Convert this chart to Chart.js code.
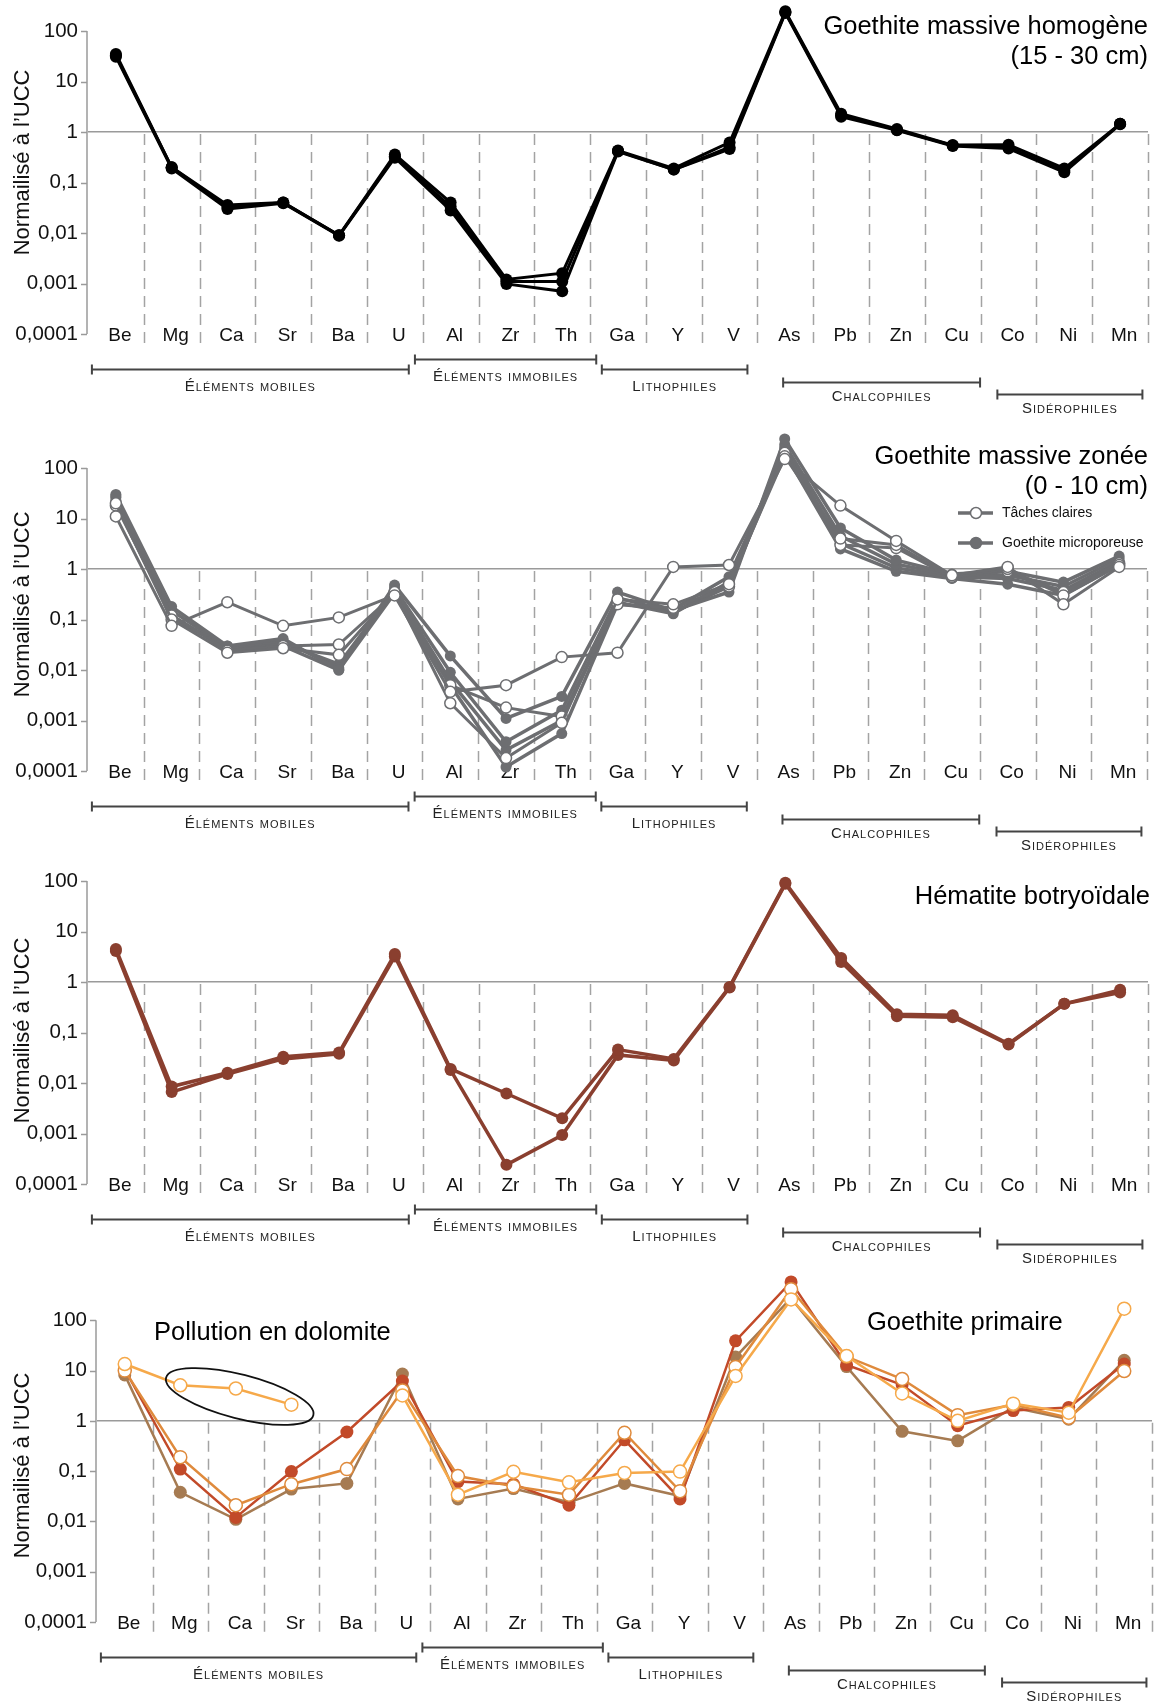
<!DOCTYPE html>
<html>
<head>
<meta charset="utf-8">
<script src="https://cdn.jsdelivr.net/npm/chart.js@4.4.0/dist/chart.umd.min.js"></script>
<style>
body{margin:0;background:#fff;width:1154px;height:1704px;position:relative;overflow:hidden}
canvas{position:absolute;left:0}
</style>
</head>
<body>
<canvas id="p1" width="1154" height="430" style="top:0px"></canvas>
<canvas id="p2" width="1154" height="440" style="top:416px"></canvas>
<canvas id="p3" width="1154" height="430" style="top:850px"></canvas>
<canvas id="p4" width="1160" height="442" style="top:1262px"></canvas>
<script>
var elements = ['Be','Mg','Ca','Sr','Ba','U','Al','Zr','Th','Ga','Y','V','As','Pb','Zn','Cu','Co','Ni','Mn'];
var yTickValues = [0.0001, 0.001, 0.01, 0.1, 1, 10, 100];
var yTickLabels = ['0,0001', '0,001', '0,01', '0,1', '1', '10', '100'];

// Goethite massive homogène (15 - 30 cm)
var homogeneA = [35, 0.2, 0.032, 0.04, 0.009, 0.36, 0.04, 0.0012, 0.0016, 0.43, 0.19, 0.62, 245, 2.3, 1.15, 0.55, 0.56, 0.19, 1.45];
var homogeneB = [33, 0.2, 0.036, 0.04, 0.009, 0.33, 0.033, 0.0011, 0.0011, 0.42, 0.18, 0.5, 235, 2.15, 1.1, 0.54, 0.5, 0.17, 1.45];
var homogeneC = [31, 0.19, 0.03, 0.039, 0.0088, 0.31, 0.028, 0.00098, 0.0007, 0.41, 0.18, 0.46, 228, 2.0, 1.08, 0.53, 0.47, 0.16, 1.42];

// Goethite massive zonée (0 - 10 cm)
var claires1 = [11, 0.075, 0.22, 0.075, 0.11, 0.3, 0.0037, 0.005, 0.018, 0.022, 1.1, 1.2, 150, 18, 3.6, 0.75, 1.1, 0.2, 1.1];
var claires2 = [20, 0.1, 0.022, 0.027, 0.02, 0.35, 0.0022, 0.00018, 0.0009, 0.25, 0.2, 0.5, 170, 4, 3.0, 0.7, 1.0, 0.3, 1.2];
var claires3 = [18, 0.12, 0.024, 0.03, 0.032, 0.32, 0.005, 0.0018, 0.0012, 0.2, 0.17, 0.45, 200, 3, 2.6, 0.68, 0.9, 0.35, 1.3];
var micro1 = [30, 0.18, 0.03, 0.042, 0.01, 0.48, 0.019, 0.0011, 0.003, 0.35, 0.15, 0.35, 375, 6.5, 1.5, 0.8, 0.9, 0.55, 1.8];
var micro2 = [26, 0.15, 0.028, 0.038, 0.011, 0.42, 0.009, 0.00038, 0.0016, 0.27, 0.14, 0.45, 290, 4.5, 1.25, 0.75, 0.75, 0.45, 1.6];
var micro3 = [23, 0.12, 0.026, 0.034, 0.013, 0.38, 0.006, 0.00026, 0.001, 0.22, 0.13, 0.55, 250, 3.2, 1.05, 0.7, 0.65, 0.38, 1.4];
var micro4 = [28, 0.1, 0.03, 0.03, 0.01, 0.33, 0.005, 0.00012, 0.00055, 0.2, 0.16, 0.7, 200, 2.5, 0.9, 0.65, 0.5, 0.3, 1.2];

// Hématite botryoïdale
var hematiteA = [4.5, 0.0085, 0.016, 0.033, 0.04, 3.6, 0.019, 0.0062, 0.002, 0.046, 0.03, 0.8, 92, 3.0, 0.23, 0.22, 0.06, 0.37, 0.7];
var hematiteB = [4.1, 0.0066, 0.015, 0.03, 0.038, 3.2, 0.018, 0.00024, 0.00093, 0.036, 0.028, 0.78, 88, 2.5, 0.21, 0.2, 0.058, 0.37, 0.62];

// Goethite primaire
var primaireA = [13.5, 5.1, 4.4, 2.1, null, 3.2, 0.034, 0.097, 0.06, 0.092, 0.098, 7.8, 260, 19.5, 3.5, 1.0, 2.2, 1.45, 170];
var primaireB = [10, 0.19, 0.021, 0.055, 0.11, 4.0, 0.08, 0.05, 0.034, 0.58, 0.04, 11.8, 415, 19, 6.8, 1.3, 2.1, 1.15, 9.8];
var primaireC = [10.5, 0.11, 0.012, 0.098, 0.6, 6.2, 0.062, 0.055, 0.021, 0.42, 0.028, 39, 580, 13, 5.2, 0.8, 1.6, 1.85, 13.5];
var primaireD = [8.2, 0.038, 0.011, 0.044, 0.057, 8.5, 0.028, 0.045, 0.024, 0.057, 0.032, 18.6, 275, 12, 0.62, 0.4, 1.85, 1.08, 16];

var groupNames = ['Éléments mobiles', 'Éléments immobiles', 'Lithophiles', 'Chalcophiles', 'Sidérophiles'];
var groupFrom = [-0.43, 5.36, 8.71, 11.96, 15.8];
var groupTo = [5.25, 8.61, 11.32, 15.49, 18.4];
var groupLineDy = [35, 25, 35, 48, 60];
var groupTextDy = [53, 43, 53, 63, 75];

Chart.defaults.font.family = '"Liberation Sans", Arial, sans-serif';
Chart.defaults.color = '#111';

function serie(data, color, open, width, radius) {
    return {
        data: data,
        borderColor: color,
        borderWidth: width,
        pointRadius: radius,
        pointBorderWidth: open ? 1.5 : 0,
        pointBorderColor: color,
        pointBackgroundColor: open ? '#fff' : color,
        tension: 0,
        clip: false,
        spanGaps: false
    };
}

function makeAnnot(o) {
    return {
        id: 'annot',
        beforeDatasetsDraw: function(chart) {
            var x = chart.scales.x, y = chart.scales.y, ctx = chart.ctx;
            var y1 = y.getPixelForValue(1) + 2;
            var yb = o.bottom + 10;
            ctx.save();
            ctx.strokeStyle = '#a3a3a3';
            ctx.lineWidth = 1.5;
            ctx.setLineDash([11, 7]);
            for (var i = 1; i <= elements.length; i++) {
                var px = Math.round(x.getPixelForValue(i - 0.5)) + 0.5;
                ctx.beginPath();
                ctx.moveTo(px, y1);
                ctx.lineTo(px, yb);
                ctx.stroke();
            }
            ctx.restore();
            // y axis line and ticks, 100 down to 0,0001
            ctx.save();
            ctx.strokeStyle = '#9a9a9a';
            ctx.lineWidth = 1.5;
            var ax = o.left - 1;
            ctx.beginPath();
            ctx.moveTo(ax, y.getPixelForValue(100));
            ctx.lineTo(ax, y.getPixelForValue(0.0001));
            yTickValues.forEach(function(v) {
                var py = Math.round(y.getPixelForValue(v)) + 0.5;
                ctx.moveTo(ax - 6, py);
                ctx.lineTo(ax, py);
            });
            ctx.stroke();
            ctx.restore();
        },
        afterDraw: function(chart) {
            var x = chart.scales.x, y = chart.scales.y, ctx = chart.ctx;
            ctx.save();
            // brackets
            ctx.strokeStyle = '#444';
            ctx.lineWidth = 2;
            ctx.fillStyle = '#222';
            ctx.textAlign = 'center';
            ctx.textBaseline = 'middle';
            ctx.font = '15px "Liberation Sans", Arial, sans-serif';
            ctx.fontVariantCaps = 'small-caps';
            ctx.letterSpacing = '1px';
            for (var g = 0; g < groupNames.length; g++) {
                var a = x.getPixelForValue(groupFrom[g]), b = x.getPixelForValue(groupTo[g]);
                var ly = o.bottom + groupLineDy[g] + 0.5;
                ctx.beginPath();
                ctx.moveTo(a, ly); ctx.lineTo(b, ly);
                ctx.moveTo(a, ly - 5); ctx.lineTo(a, ly + 5);
                ctx.moveTo(b, ly - 5); ctx.lineTo(b, ly + 5);
                ctx.stroke();
                ctx.fillText(groupNames[g], (a + b) / 2, o.bottom + groupTextDy[g]);
            }
            ctx.fontVariantCaps = 'normal';
            ctx.letterSpacing = '0px';
            // y title
            ctx.save();
            ctx.translate(23, y.getPixelForValue(o.titleAt));
            ctx.rotate(-Math.PI / 2);
            ctx.font = '22px "Liberation Sans", Arial, sans-serif';
            ctx.fillStyle = '#111';
            ctx.fillText('Normailisé à l’UCC', 0, 0);
            ctx.restore();
            // titles
            ctx.fillStyle = '#000';
            ctx.font = '25.5px "Liberation Sans", Arial, sans-serif';
            o.titles.forEach(function(t) {
                ctx.textAlign = t.align;
                ctx.fillText(t.text, t.x, t.y);
            });
            // legend
            if (o.legend) {
                ctx.font = '14px "Liberation Sans", Arial, sans-serif';
                ctx.textAlign = 'left';
                o.legend.forEach(function(l) {
                    ctx.strokeStyle = l.color;
                    ctx.lineWidth = 3.5;
                    ctx.beginPath();
                    ctx.moveTo(958, l.y); ctx.lineTo(993, l.y);
                    ctx.stroke();
                    ctx.beginPath();
                    ctx.arc(976, l.y, 5.5, 0, Math.PI * 2);
                    ctx.fillStyle = l.open ? '#fff' : l.color;
                    ctx.fill();
                    ctx.lineWidth = 1.5;
                    ctx.stroke();
                    ctx.fillStyle = '#111';
                    ctx.fillText(l.text, 1002, l.y);
                });
            }
            // ellipse
            if (o.ellipse) {
                ctx.strokeStyle = '#111';
                ctx.lineWidth = 1.8;
                ctx.beginPath();
                ctx.ellipse(x.getPixelForValue(o.ellipse.at), y.getPixelForValue(o.ellipse.val), 76, 22, 0.25, 0, Math.PI * 2);
                ctx.stroke();
            }
            ctx.restore();
        }
    };
}

function makePanel(id, sets, o) {
    var cv = document.getElementById(id);
    var H = cv.height;
    var decade = (o.bottom - o.top) / 6;
    var chartTop = o.top - Math.log10(o.yMax / 100) * decade;
    return new Chart(cv, {
        type: 'line',
        data: { labels: elements, datasets: sets },
        options: {
            responsive: false,
            animation: false,
            devicePixelRatio: 1,
            layout: { padding: { top: chartTop, right: o.right, bottom: H - o.bottom - 30, left: 0 } },
            plugins: { legend: { display: false }, tooltip: { enabled: false } },
            scales: {
                x: {
                    offset: true,
                    grid: { display: false, drawTicks: false },
                    border: { display: false },
                    ticks: { autoSkip: false, maxRotation: 0, mirror: true, padding: -13, labelOffset: 4, color: '#111', font: { size: 19 } },
                    afterFit: function(s) { s.height = 30; s.paddingLeft = 0; s.paddingRight = 0; }
                },
                y: {
                    type: 'logarithmic',
                    min: 0.0001,
                    max: o.yMax,
                    afterFit: function(s) { s.width = o.left; s.paddingTop = 0; s.paddingBottom = 0; },
                    afterBuildTicks: function(s) { s.ticks = yTickValues.map(function(v) { return { value: v }; }); },
                    ticks: {
                        padding: 4,
                        color: '#111',
                        font: { size: 20.5 },
                        callback: function(v) { return yTickLabels[yTickValues.indexOf(v)]; }
                    },
                    grid: {
                        color: function(c) { return c.tick && c.tick.value === 1 ? '#9a9a9a' : 'rgba(0,0,0,0)'; },
                        lineWidth: 1.5,
                        tickLength: 6,
                        tickColor: 'rgba(0,0,0,0)'
                    },
                    border: { display: false }
                }
            }
        },
        plugins: [makeAnnot(o)]
    });
}

var grey = '#6d6e71';
var rust = '#8a3f2f';

makePanel('p1', [
    serie(homogeneA, '#000', false, 3, 6),
    serie(homogeneB, '#000', false, 3, 6),
    serie(homogeneC, '#000', false, 3, 6)
], { top: 31, bottom: 334, yMax: 300, left: 88, right: 2, titleAt: 0.25,
     titles: [{ text: 'Goethite massive homogène', x: 1148, y: 27, align: 'right' },
              { text: '(15 - 30 cm)', x: 1148, y: 57, align: 'right' }] });

makePanel('p2', [
    serie(claires1, grey, true, 3, 5.5),
    serie(claires2, grey, true, 3, 5.5),
    serie(claires3, grey, true, 3, 5.5),
    serie(micro1, grey, false, 3.5, 5.5),
    serie(micro2, grey, false, 3.5, 5.5),
    serie(micro3, grey, false, 3.5, 5.5),
    serie(micro4, grey, false, 3.5, 5.5)
], { top: 52, bottom: 355, yMax: 600, left: 88, right: 2, titleAt: 0.2,
     titles: [{ text: 'Goethite massive zonée', x: 1148, y: 41, align: 'right' },
              { text: '(0 - 10 cm)', x: 1148, y: 71, align: 'right' }],
     legend: [{ text: 'Tâches claires', y: 97, color: grey, open: true },
              { text: 'Goethite microporeuse', y: 127, color: grey, open: false }] });

makePanel('p3', [
    serie(hematiteA, rust, false, 3.5, 6),
    serie(hematiteB, rust, false, 3.5, 6)
], { top: 31, bottom: 334, yMax: 300, left: 88, right: 2, titleAt: 0.11,
     titles: [{ text: 'Hématite botryoïdale', x: 1150, y: 47, align: 'right' }] });

makePanel('p4', [
    serie(primaireA, '#f6a94a', true, 2.5, 6.5),
    serie(primaireB, '#df8a3c', true, 2.5, 6.5),
    serie(primaireC, '#c24a29', false, 2.5, 6.5),
    serie(primaireD, '#a67b52', false, 2.5, 6.5)
], { top: 57, bottom: 360, yMax: 1000, left: 97, right: 2, titleAt: 0.13,
     titles: [{ text: 'Goethite primaire', x: 867, y: 61, align: 'left' },
              { text: 'Pollution en dolomite', x: 154, y: 71, align: 'left' }],
     ellipse: { at: 2.07, val: 3.05 } });
</script>
</body>
</html>
